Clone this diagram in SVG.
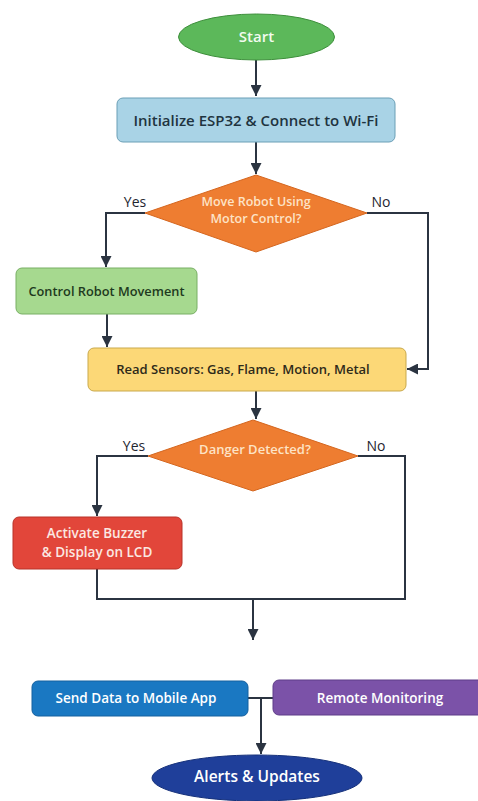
<svg xmlns="http://www.w3.org/2000/svg" width="478" height="801" viewBox="0 0 478 801">
<defs>
<marker id="arr" viewBox="0 0 10 10" refX="10" refY="5" markerWidth="5.5" markerHeight="5.5" orient="auto" markerUnits="strokeWidth">
<path d="M0,0 L10,5 L0,10 z" fill="#2b3441"/>
</marker>
<style>
.t{font-family:"Open Sans","Noto Sans","Liberation Sans",sans-serif;font-weight:600;text-anchor:middle;dominant-baseline:central}
.c{fill:none;stroke:#2b3441;stroke-width:2}
.lbl{font-family:"Open Sans","Noto Sans","Liberation Sans",sans-serif;font-size:14px;fill:#1f2630;text-anchor:middle;dominant-baseline:central}
</style>
</defs>
<rect width="478" height="801" fill="#ffffff"/>
<g id="connectors">
<path class="c" d="M256,60 V96" marker-end="url(#arr)"/>
<path class="c" d="M256,142 V174" marker-end="url(#arr)"/>
<path class="c" d="M145,213 H106 V267" marker-end="url(#arr)"/>
<path class="c" d="M367,213 H428 V369 H407" marker-end="url(#arr)"/>
<path class="c" d="M107,314 V347" marker-end="url(#arr)"/>
<path class="c" d="M256,391 V419" marker-end="url(#arr)"/>
<path class="c" d="M148,456 H97 V516" marker-end="url(#arr)"/>
<path class="c" d="M358,456 H405 V599 H97 V569"/>
<path class="c" d="M253,599 V640" marker-end="url(#arr)"/>
<path class="c" d="M248,698 H273"/>
<path class="c" d="M261,698 V754" marker-end="url(#arr)"/>
<text class="lbl" x="135" y="201">Yes</text>
<text class="lbl" x="381" y="201">No</text>
<text class="lbl" x="134" y="445">Yes</text>
<text class="lbl" x="376" y="445">No</text>
</g>
<g id="start">
<ellipse cx="256.5" cy="37" rx="78" ry="23" fill="#5cb85a" stroke="#3e8f3c" stroke-width="1"/>
<text class="t" x="256.5" y="36" font-size="15" fill="#f2fbef">Start</text>
</g>
<g id="init">
<rect x="117" y="98" width="278" height="44" rx="6" fill="#a9d3e6" stroke="#6b9fb6" stroke-width="1"/>
<text class="t" x="256" y="119.5" font-size="15" fill="#1f3340">Initialize ESP32 &amp; Connect to Wi-Fi</text>
</g>
<g id="decision-move">
<polygon points="256,175 367,213 256,252 145,213" fill="#ee7d31" stroke="#d4661f" stroke-width="1"/>
<text class="t" x="256" y="201" font-size="12.5" fill="#fde3c6">Move Robot Using</text>
<text class="t" x="256" y="218" font-size="12.5" fill="#fde3c6">Motor Control?</text>
</g>
<g id="control">
<rect x="16" y="268" width="181" height="46" rx="6" fill="#a6d98f" stroke="#78af64" stroke-width="1"/>
<text class="t" x="106.5" y="291" font-size="12.8" fill="#1e3a20">Control Robot Movement</text>
</g>
<g id="sensors">
<rect x="88" y="348" width="318" height="43" rx="6" fill="#fcd877" stroke="#c9a94c" stroke-width="1"/>
<text class="t" x="243" y="369" font-size="13" fill="#2e2a1a">Read Sensors: Gas, Flame, Motion, Metal</text>
</g>
<g id="decision-danger">
<polygon points="253,420 358,456 253,491 148,456" fill="#ee7d31" stroke="#d4661f" stroke-width="1"/>
<text class="t" x="255" y="449" font-size="13" fill="#fde3c6">Danger Detected?</text>
</g>
<g id="activate">
<rect x="13" y="517" width="169" height="52" rx="6" fill="#e2463a" stroke="#b83228" stroke-width="1"/>
<text class="t" x="97" y="533" font-size="13.5" fill="#fbe8e2">Activate Buzzer</text>
<text class="t" x="97" y="552" font-size="13.5" fill="#fbe8e2">&amp; Display on LCD</text>
</g>
<g id="send">
<rect x="32" y="681" width="216" height="35" rx="6" fill="#1a78c2" stroke="#14609f" stroke-width="1"/>
<text class="t" x="136" y="698" font-size="13.5" fill="#ffffff">Send Data to Mobile App</text>
</g>
<g id="remote">
<rect x="273" y="680" width="214" height="35" rx="6" fill="#7b52a8" stroke="#5f3d88" stroke-width="1"/>
<text class="t" x="380" y="698" font-size="13.5" fill="#ffffff">Remote Monitoring</text>
</g>
<g id="alerts">
<ellipse cx="257" cy="778" rx="105" ry="23" fill="#1f3f9a" stroke="#15307a" stroke-width="1"/>
<text class="t" x="257" y="776" font-size="15.5" fill="#ffffff">Alerts &amp; Updates</text>
</g>
</svg>
